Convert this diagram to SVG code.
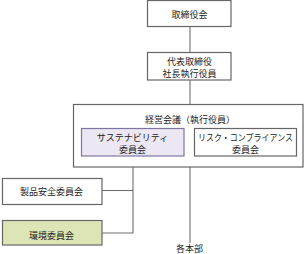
<svg xmlns="http://www.w3.org/2000/svg" width="305" height="254" viewBox="0 0 305 254">
<style>
.box{fill:#ffffff;stroke:#666666;stroke-width:1.2}
.sus{fill:#ede6f3;stroke:#7d75a3;stroke-width:1.2}
.env{fill:#dde5b6;stroke:#666666;stroke-width:1.2}
.ln{fill:none;stroke:#707070;stroke-width:1.1}
text{font-family:"Noto Sans CJK JP","Noto Sans CJK SC",sans-serif;font-size:9px;fill:#222222;text-anchor:middle}
</style>
<rect width="305" height="254" fill="#ffffff"/>
<g id="connectors">
<line class="ln" x1="190" y1="26.5" x2="190" y2="52"/>
<line class="ln" x1="190" y1="80" x2="190" y2="104"/>
<polyline class="ln" points="133,156 133,233 102,233"/>
<line class="ln" x1="102" y1="190.5" x2="133" y2="190.5"/>
<line class="ln" x1="190" y1="167" x2="190" y2="243"/>
</g>
<g id="board">
<rect class="box" x="147.5" y="0.5" width="83.5" height="26"/>
<text x="189.5" y="17.5">取締役会</text>
</g>
<g id="president">
<rect class="box" x="147.5" y="52.5" width="83.5" height="27.5"/>
<text x="189.5" y="64.5">代表取締役</text>
<text x="189.5" y="76.5">社長執行役員</text>
</g>
<g id="management">
<rect class="box" x="73.5" y="104.5" width="229.5" height="62.5"/>
<text x="190" y="123">経営会議（執行役員）</text>
</g>
<g id="sustainability">
<rect class="sus" x="81.5" y="128.5" width="102.5" height="27.5"/>
<text x="132.5" y="140.5">サステナビリティ</text>
<text x="132.5" y="152.5">委員会</text>
</g>
<g id="risk">
<rect class="box" x="194.5" y="128.5" width="102" height="27.5"/>
<text x="245.5" y="140.5" textLength="95" lengthAdjust="spacingAndGlyphs">リスク・コンプライアンス</text>
<text x="245.5" y="152.5">委員会</text>
</g>
<g id="product-safety">
<rect class="box" x="2.5" y="178.5" width="99.5" height="26"/>
<text x="51.5" y="195">製品安全委員会</text>
</g>
<g id="environment">
<rect class="env" x="2.5" y="220.5" width="99.5" height="24.5"/>
<text x="51.5" y="239">環境委員会</text>
</g>
<g id="divisions">
<text x="189.5" y="252">各本部</text>
</g>
</svg>
